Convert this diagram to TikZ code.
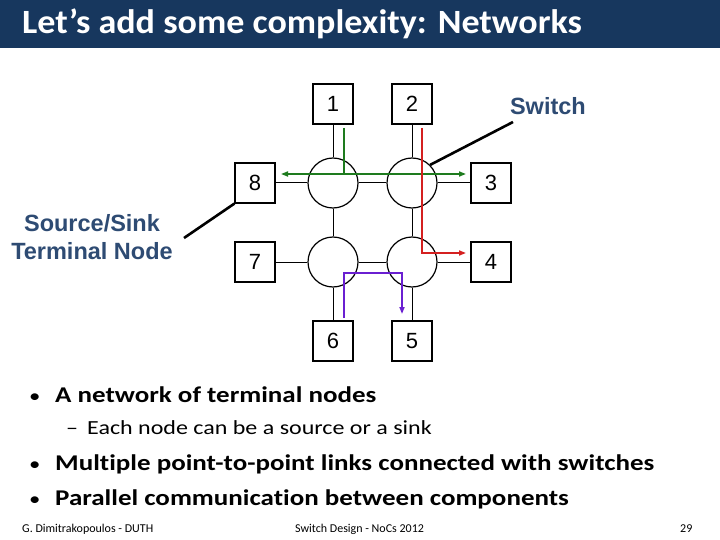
\documentclass[tikz,border=0pt]{standalone}
\usepackage{fontspec}
\setmainfont{Carlito}[Ligatures=NoCommon]
\newfontfamily\bodyf{Carlito}[FakeStretch=1.2,Ligatures=NoCommon]
\newfontfamily\titlef{Carlito}[FakeStretch=1.06,Ligatures=NoCommon]
\newfontfamily\arialf{Liberation Sans}
\usetikzlibrary{arrows.meta,calc}
\definecolor{navy}{HTML}{17375E}
\definecolor{lblue}{HTML}{2E4B73}
\definecolor{rgreen}{HTML}{1E7B1E}
\definecolor{rred}{HTML}{D42020}
\definecolor{rpurple}{HTML}{6A1FD1}
\tikzset{
  term/.style={draw=black,line width=1.2pt,minimum width=40pt,minimum height=40pt,inner sep=0pt,font=\arialf\fontsize{22}{24}\selectfont},
  sw/.style={draw=black,circle,line width=1.2pt,minimum size=50pt,inner sep=0pt},
  link/.style={draw=black,line width=1pt},
  route/.style={line width=1.6pt,-{Triangle[length=7pt,width=5pt]}},
  pointer/.style={draw=black,line width=2.6pt},
  lbl/.style={text=lblue,font=\arialf\bfseries\fontsize{23.5}{28}\selectfont,inner sep=0pt},
  bull/.style={anchor=base west,inner sep=0pt,font=\bodyf\bfseries\fontsize{22.5}{27}\selectfont},
  dot/.style={anchor=base west,inner sep=0pt,font=\bodyf\fontsize{19}{22}\selectfont},
  sub/.style={anchor=base west,inner sep=0pt,font=\bodyf\fontsize{20}{24}\selectfont},
  foot/.style={anchor=base west,inner sep=0pt,font=\fontsize{12}{14}\selectfont}
}
\begin{document}
\begin{tikzpicture}[x=1pt,y=-1pt]
\useasboundingbox (0,0) rectangle (720,540);
\fill[white] (0,0) rectangle (720,540);
% title bar
\fill[navy] (0,0) rectangle (720,48);
\node[anchor=base west,inner sep=0pt,text=white,font=\titlef\bfseries\fontsize{34}{40}\selectfont] (title) at (22,34) {Let’s add some complexity: Networks};
% switches
\node[sw] (s1) at (333,183) {};
\node[sw] (s2) at (412,183) {};
\node[sw] (s3) at (333,262) {};
\node[sw] (s4) at (412,262) {};
% terminals
\node[term] (t1) at (333,104) {1};
\node[term] (t2) at (412,104) {2};
\node[term] (t8) at (255,183) {8};
\node[term] (t3) at (491,183) {3};
\node[term] (t7) at (255,262) {7};
\node[term] (t4) at (491,262) {4};
\node[term] (t6) at (333,341) {6};
\node[term] (t5) at (412,341) {5};
% links
\draw[link] (t1) -- (s1);
\draw[link] (t2) -- (s2);
\draw[link] (t8) -- (s1);
\draw[link] (s1) -- (s2);
\draw[link] (s2) -- (t3);
\draw[link] (t7) -- (s3);
\draw[link] (s3) -- (s4);
\draw[link] (s4) -- (t4);
\draw[link] (s1) -- (s3);
\draw[link] (s2) -- (s4);
\draw[link] (s3) -- (t6);
\draw[link] (s4) -- (t5);
% routes
\coordinate (g0) at (344,128);
\coordinate (g1) at (344,174);
\coordinate (gl) at (281,174);
\coordinate (gr) at (466,174);
\draw[route,rgreen,-] (g0) -- (g1);
\draw[route,rgreen] (g1) -- (gl);
\draw[route,rgreen] (g1) -- (gr);
\coordinate (r0) at (422,128);
\coordinate (r1) at (422,253);
\coordinate (r2) at (466,253);
\draw[route,rred] (r0) -- (r1) -- (r2);
\coordinate (p0) at (344,318);
\coordinate (p1) at (344,273);
\coordinate (p2) at (402,273);
\coordinate (p3) at (402,314);
\draw[route,rpurple] (p0) -- (p1) -- (p2) -- (p3);
% labels and pointers
\node[lbl,anchor=base east] (swl) at (586,115) {Switch};
\coordinate (swp) at (513,122);
\draw[pointer] (swp) -- (s2.north east);
\node[lbl,align=center] (ssl) at (92,237) {Source/Sink\\Terminal Node};
\coordinate (ssp) at (184,238);
\draw[pointer] (ssp) -- (t8.south west);
% bullets
\node[dot] (b1d) at (29,402) {•};
\node[bull] (b1) at (55,402) {A network of terminal nodes};
\node[sub] (b2d) at (66,434) {–};
\node[sub] (b2) at (87,434) {Each node can be a source or a sink};
\node[dot] (b3d) at (29,470) {•};
\node[bull] (b3) at (55,470) {Multiple point-to-point links connected with switches};
\node[dot] (b4d) at (29,505) {•};
\node[bull] (b4) at (55,505) {Parallel communication between components};
% footer
\node[foot] (f1) at (22,532) {G. Dimitrakopoulos - DUTH};
\node[foot] (f2) at (295,532) {Switch Design - NoCs 2012};
\node[foot] (f3) at (680,532) {29};
\end{tikzpicture}
\end{document}
